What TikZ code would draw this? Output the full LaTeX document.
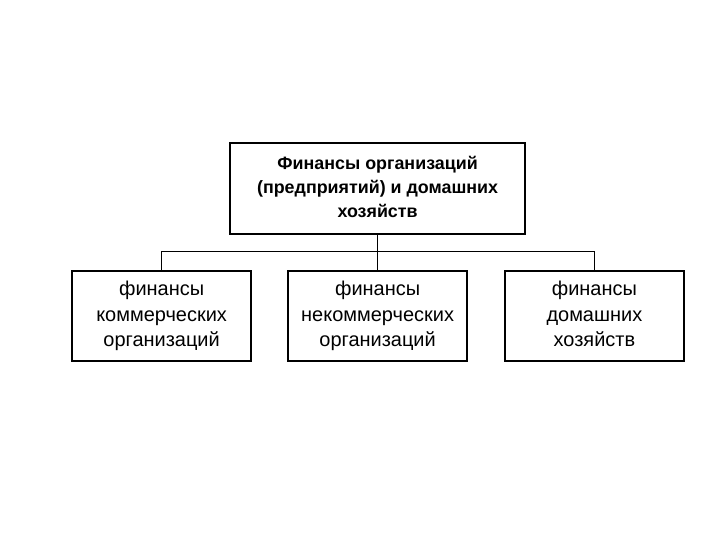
\documentclass[tikz,border=0pt]{standalone}
\usepackage{fontspec}
\setmainfont{Liberation Sans}

\tikzset{
    finbox/.style={draw, line width=1pt, rectangle, align=center, inner sep=0,
        minimum width=4.475cm, minimum height=2.25cm,
        font=\fontsize{14.2}{17.8}\selectfont},
    headbox/.style={finbox, minimum width=7.375cm, minimum height=2.275cm,
        font=\fontsize{12.7}{17}\selectfont\bfseries},
    wire/.style={line width=1pt}
}

\begin{document}
\begin{tikzpicture}
        \useasboundingbox (0, 0) rectangle (18, 13.5);

        % Boxes:
        \node[headbox] (head) at (9.44, 8.79) {\strut Финансы организаций\\(предприятий) и домашних\\хозяйств\strut};
        \node[finbox] (commerce) at (4.04, 5.6) {\strut финансы\\коммерческих\\организаций\strut};
        \node[finbox] (noncommerce) at (9.44, 5.6) {\strut финансы\\некоммерческих\\организаций\strut};
        \node[finbox] (household) at (14.86, 5.6) {\strut финансы\\домашних\\хозяйств\strut};

        % Wires:
        \coordinate (bus) at (9.44, 7.21);
        \draw[wire] (head.south) -- (bus);
        \draw[wire] (commerce.north) |- (bus) -| (household.north);
        \draw[wire] (noncommerce.north) -- (bus);
    \end{tikzpicture}
\end{document}
